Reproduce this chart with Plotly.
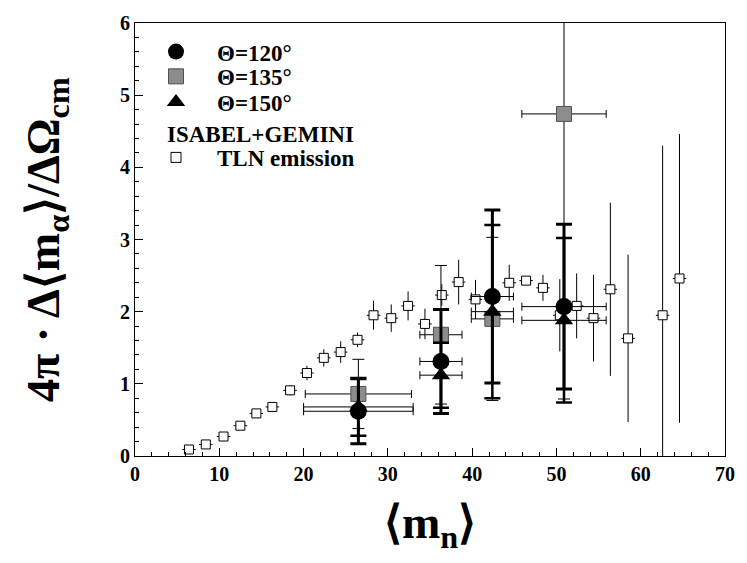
import plotly.graph_objects as go

# TLN emission (ISABEL+GEMINI)
tln_x = [6.4, 8.4, 10.5, 12.5, 14.4, 16.3, 18.4, 20.4, 22.4, 24.4, 26.4, 28.3, 30.4, 32.4,
         34.4, 36.4, 38.4, 40.4, 44.4, 46.4, 48.4, 50.4, 52.4, 54.4, 56.4, 58.5, 62.6, 64.6]
tln_y = [0.09, 0.16, 0.27, 0.42, 0.59, 0.68, 0.91, 1.15, 1.36, 1.44, 1.61, 1.95, 1.91, 2.08,
         1.83, 2.23, 2.41, 2.17, 2.40, 2.43, 2.33, 1.95, 2.08, 1.91, 2.31, 1.63, 1.95, 2.46]
tln_err = [0.04, 0.05, 0.05, 0.05, 0.05, 0.06, 0.07, 0.10, 0.12, 0.15, 0.10, 0.20, 0.19, 0.20,
           0.21, 0.15, 0.31, 0.27, 0.25, 0.05, 0.18, 0.50, 0.45, 0.60, 1.20, 1.16, 2.35, 2.00]

# Experimental data
x120 = [26.5, 36.3, 42.4, 50.9]
y120 = [0.62, 1.31, 2.21, 2.07]
ey120 = [0.45, 0.72, 1.20, 1.14]
ex120 = [6.5, 2.5, 2.5, 5.0]

x135 = [26.5, 36.3, 42.4, 50.9]
y135 = [0.86, 1.68, 1.90, 4.74]
ey135 = [0.48, 0.96, 1.13, 3.95]
ex135 = [6.3, 2.5, 2.5, 5.0]

x150 = [26.5, 36.3, 42.4, 50.9]
y150 = [0.68, 1.12, 2.00, 1.88]
ey150 = [0.40, 0.45, 1.20, 1.14]
ex150 = [6.5, 2.5, 2.5, 5.0]

x_ticks = [0, 10, 20, 30, 40, 50, 60, 70]
y_ticks = [0, 1, 2, 3, 4, 5, 6]

FONT = "Liberation Serif, Times New Roman, serif"
LEG_FONT = dict(family=FONT, size=23, color="black")

fig = go.Figure()

fig.add_trace(go.Scatter(
    x=tln_x, y=tln_y, mode="markers", showlegend=False,
    marker=dict(symbol="square", size=9, color="white", line=dict(color="black", width=1)),
    error_y=dict(type="data", array=tln_err, color="black", thickness=1, width=0),
    error_x=dict(type="data", array=[0.8] * len(tln_x), color="black", thickness=1, width=0),
))

fig.add_trace(go.Scatter(
    x=x135, y=y135, mode="markers", name="<b>Θ=135°</b>", legend="legend2",
    marker=dict(symbol="square", size=15, color="#8c8c8c", line=dict(color="#505050", width=1)),
    error_y=dict(type="data", array=ey135, color="black", thickness=1, width=6),
    error_x=dict(type="data", array=ex135, color="black", thickness=1, width=4),
))
fig.add_trace(go.Scatter(
    x=x150, y=y150, mode="markers", name="<b>Θ=150°</b>", legend="legend3",
    marker=dict(symbol="triangle-up", size=16, color="black"),
    error_y=dict(type="data", array=ey150, color="black", thickness=2.5, width=8),
    error_x=dict(type="data", array=ex150, color="black", thickness=1, width=4),
))
fig.add_trace(go.Scatter(
    x=x120, y=y120, mode="markers", name="<b>Θ=120°</b>", legend="legend",
    marker=dict(symbol="circle", size=17, color="black"),
    error_y=dict(type="data", array=ey120, color="black", thickness=3, width=8),
    error_x=dict(type="data", array=ex120, color="black", thickness=1, width=4),
))
# legend entry for TLN
fig.add_trace(go.Scatter(
    x=[None], y=[None], mode="markers", name="<b>TLN emission</b>", legend="legend4",
    marker=dict(symbol="square", size=10, color="white", line=dict(color="black", width=1)),
))

def leg(py):
    return dict(x=0.0, y=(456 - py) / 438, xanchor="left", yanchor="middle",
                font=LEG_FONT, bgcolor="rgba(0,0,0,0)", itemwidth=72)

fig.update_layout(
    width=747, height=563,
    margin=dict(l=135, r=12, t=18, b=107),
    paper_bgcolor="white", plot_bgcolor="white",
    font=dict(family=FONT, color="black"),
    legend=leg(47), legend2=leg(72), legend3=leg(98), legend4=leg(154),
    xaxis=dict(range=[0, 70], showgrid=False, zeroline=False,
               showline=True, linecolor="black", linewidth=1, mirror=True,
               ticks="inside", ticklen=8, tickcolor="black",
               tickvals=x_ticks, ticktext=[f"<b>{v}</b>" for v in x_ticks],
               minor=dict(ticks="inside", ticklen=4, dtick=2, tickcolor="black"),
               tickfont=dict(family=FONT, size=20, color="black")),
    yaxis=dict(range=[0, 6], showgrid=False, zeroline=False,
               showline=True, linecolor="black", linewidth=1, mirror=True,
               ticks="inside", ticklen=8, tickcolor="black",
               tickvals=y_ticks, ticktext=[f"<b>{v}</b>" for v in y_ticks],
               minor=dict(ticks="inside", ticklen=4, dtick=0.2, tickcolor="black"),
               tickfont=dict(family=FONT, size=20, color="black")),
)

fig.add_annotation(
    xref="paper", yref="paper", x=(165 - 135) / 600, y=(456 - 131) / 438,
    xanchor="left", yanchor="middle", text="<b>ISABEL+GEMINI</b>", showarrow=False,
    font=LEG_FONT,
)
fig.add_annotation(
    xref="paper", yref="paper", x=-0.15, y=0.5, xanchor="center", yanchor="middle",
    text="<b>4π · Δ⟨m<sub>α</sub>⟩/ΔΩ<sub>cm</sub></b>", textangle=-90, showarrow=False,
    font=dict(family=FONT, size=46, color="black"),
)
fig.add_annotation(
    xref="paper", yref="paper", x=0.5, y=-0.09, xanchor="center", yanchor="top",
    text="<b>⟨m<sub>n</sub>⟩</b>", showarrow=False,
    font=dict(family=FONT, size=46, color="black"),
)

fig.write_html("out.html")
